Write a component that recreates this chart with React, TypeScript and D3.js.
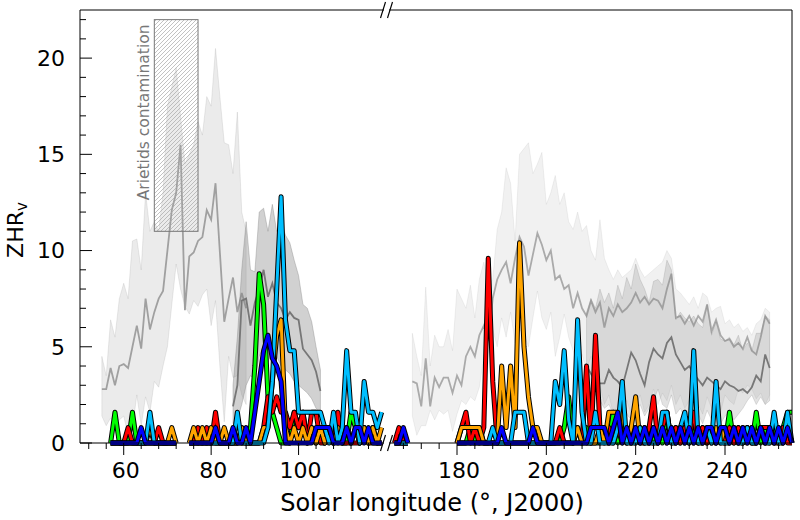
import * as d3 from "d3";

// solar longitude grids (degrees, J2000)
const LAMBDA_LEFT = d3.range(55, 120);
const LAMBDA_RIGHT = d3.range(166, 256);

// gray reference profiles: median and spread
const BAND_A_LAMBDA = d3.range(55, 89);
const BAND_A_HIGH = [4.5, 3.5, 6.4, 5.5, 7.5, 8.3, 7.5, 10.5, 10.6, 9.0, 13.0, 11.0, 11.5, 11.0, 13.0, 17.5, 18.5, 19.5, 17.0, 14.5, 15.0, 15.5, 16.7, 16.0, 18.0, 17.5, 20.5, 18.0, 15.6, 15.5, 14.0, 17.2, 12.0, 11.0];
const BAND_A_MID = [2.8, 2.8, 3.9, 3.0, 4.0, 4.1, 3.9, 5.0, 6.1, 4.9, 7.5, 5.9, 6.8, 7.5, 7.9, 10.0, 12.1, 13.0, 15.5, 6.9, 9.7, 9.9, 10.5, 10.7, 12.1, 11.6, 13.5, 9.9, 6.3, 7.5, 8.6, 6.8, 7.8, 7.0];
const BAND_A_LOW = [1.4, 0.9, 1.3, 1.0, 1.2, 1.4, 0.4, 0.8, 2.5, 0.9, 2.4, 1.6, 3.2, 2.9, 4.0, 5.0, 7.2, 9.3, 8.0, 7.1, 6.7, 7.4, 7.1, 7.7, 8.0, 6.1, 7.4, 4.0, 1.1, 4.5, 3.4, 3.5, 2.5, 2.0];

const BAND_B_LAMBDA = d3.range(85, 106);
const BAND_B_HIGH = [3.0, 5.5, 9.0, 11.5, 9.0, 8.9, 12.0, 12.2, 11.0, 12.4, 11.0, 11.5, 10.8, 10.4, 9.5, 8.7, 7.2, 7.0, 6.3, 5.0, 3.8];
const BAND_B_MID = [1.9, 3.0, 7.4, 7.5, 6.1, 7.3, 8.0, 9.0, 7.6, 8.3, 7.3, 7.0, 6.4, 6.8, 6.5, 6.4, 4.9, 4.6, 4.3, 3.7, 2.7];
const BAND_B_LOW = [1.0, 1.2, 2.0, 3.0, 3.5, 3.3, 4.5, 5.0, 4.2, 4.8, 4.5, 4.0, 3.8, 3.6, 3.2, 3.0, 2.8, 2.6, 2.3, 1.8, 1.6];

const BAND_C_LAMBDA = d3.range(170, 251);
const BAND_C_HIGH = [
  5.7, 4.5, 3.5, 8.1, 4.0, 5.6, 5.0, 5.0, 5.9, 4.8,
  8.0, 7.5, 7.0, 8.2, 6.5, 8.5, 9.4, 8.2, 8.5, 11.1,
  12.0, 14.3, 13.5, 10.5, 15.0, 15.3, 15.6, 14.0, 14.5, 15.1,
  12.4, 13.0, 13.9, 12.4, 13.0, 11.5, 11.1, 12.0, 11.0, 11.3,
  10.0, 9.5, 11.6, 9.6, 9.0, 8.5, 9.0, 8.6, 8.8, 9.0,
  9.6, 9.0, 8.6, 8.8, 9.0, 9.2, 9.4, 10.0, 9.6, 8.0,
  7.8, 7.5, 7.2, 7.6, 7.0, 7.8, 7.6, 6.8, 7.0, 7.1,
  6.2, 6.4, 6.0, 6.2, 5.8, 6.0, 5.6, 6.2, 6.4, 7.0,
  6.8,
];
const BAND_C_MID = [
  3.2, 3.1, 1.9, 4.4, 1.9, 3.4, 2.9, 3.4, 3.4, 2.6,
  3.5, 3.0, 4.5, 5.0, 4.5, 5.6, 6.1, 5.3, 7.5, 8.5,
  9.0, 9.4, 8.3, 9.6, 10.7, 10.2, 8.7, 9.8, 10.9, 10.3,
  9.5, 10.0, 8.5, 8.7, 8.0, 8.2, 7.0, 7.8, 7.0, 6.6,
  7.4, 6.8, 7.3, 6.0, 7.0, 6.6, 7.2, 6.8, 7.0, 7.3,
  7.8, 7.3, 7.6, 7.2, 7.5, 7.4, 7.0, 8.0, 8.8, 6.5,
  6.6, 6.2, 6.6, 6.1, 6.6, 6.3, 7.2, 5.8, 6.4, 5.6,
  5.3, 5.4, 5.0, 5.2, 4.9, 5.5, 4.8, 4.6, 5.5, 6.6,
  6.2,
];
const BAND_C_LOW = [
  1.4, 0.4, 0.9, 0.9, 1.7, 1.2, 1.7, 1.5, 1.7, 0.6,
  1.5, 2.2, 2.0, 2.4, 2.2, 2.9, 4.5, 5.5, 5.9, 5.0,
  6.5, 5.5, 6.8, 5.2, 5.9, 5.6, 5.0, 6.5, 7.9, 6.5,
  5.9, 6.8, 4.5, 5.5, 6.7, 5.5, 4.8, 4.0, 4.6, 3.8,
  4.5, 3.5, 3.0, 2.0, 2.5, 1.5, 2.0, 1.8, 2.2, 1.5,
  1.8, 2.5, 1.6, 2.0, 2.8, 2.0, 2.6, 2.2, 3.0, 2.0,
  2.5, 1.8, 2.2, 1.6, 2.0, 1.5, 2.4, 1.8, 2.0, 1.6,
  2.5, 2.2, 2.0, 2.8, 2.6, 3.0, 2.8, 2.3, 2.6, 2.0,
  2.5,
];

const BAND_D_LAMBDA = d3.range(209, 251);
const BAND_D_HIGH = [
  6.8, 7.5, 7.0, 8.0, 7.3, 7.8, 7.0, 8.2, 7.5, 8.6, 8.0,
  9.3, 8.5, 8.0, 7.3, 8.4, 8.5, 8.2, 9.5, 9.0, 6.4,
  6.8, 6.5, 6.3, 6.6, 6.2, 6.0, 7.2, 5.6, 6.3, 5.4,
  5.3, 5.5, 5.1, 5.6, 4.8, 5.2, 4.8, 5.7, 5.7, 6.6,
  6.4,
];
const BAND_D_MID = [
  4.0, 3.6, 3.2, 3.1, 3.1, 3.8, 3.4, 3.2, 2.9, 3.8, 4.7,
  4.3, 3.6, 3.0, 4.2, 4.9, 4.6, 4.4, 5.2, 5.5, 4.6,
  4.2, 3.8, 4.0, 3.6, 3.3, 3.0, 3.4, 3.2, 3.0, 2.8,
  3.2, 3.0, 2.9, 2.7, 2.8, 2.6, 2.9, 3.5, 3.2, 4.6,
  3.9,
];
const BAND_D_LOW = [
  3.0, 2.8, 2.5, 2.2, 1.8, 2.0, 1.5, 1.8, 1.3, 1.5, 1.2,
  1.6, 2.0, 1.4, 1.8, 2.2, 2.8, 2.0, 1.8, 2.5, 1.5,
  1.8, 1.3, 1.6, 1.2, 1.5, 1.0, 1.7, 1.2, 1.5, 1.0,
  1.4, 1.6, 1.2, 1.5, 1.8, 2.2, 2.5, 2.0, 2.4, 2.0,
  2.2,
];

// coloured profiles, left part (lambda 55..119), null = no data
const GREEN_LEFT = [
  null, null, 0, 1.6, 0, 0, 0, 1.6, 0, 0,
  0, 0, 0, 0, 0, 0, 0, 0, null, null,
  0, 0, 0, 0, 0, 0, 0, 0, 0, 0,
  0, 0, 0.8, 0, 0.8, 4.0, 8.8, 7.2, 2.4, 1.6,
  0.8, 0, 0, 0, 1.6, 0.8, 1.6, 0, 0.8, 0,
  0.8, 0, 0.8, 0, 0.8, 0, 0, 1.6, 0.8, 0,
  0.8, 0, 0.8, 0, 0,
];
const RED_LEFT = [
  null, null, 0, 0, 0, 0, 0.8, 0, 0, 0,
  0, 0, 0, 0.8, 0, 0, 0, 0, null, null,
  0, 0, 0.8, 0, 0.8, 0, 1.6, 0, 0, 0,
  0, 0, 0, 0, 0, 0, 0, 0.8, 2.4, 1.6,
  2.4, 1.6, 1.6, 0.8, 1.6, 0.8, 1.6, 0, 1.6, 1.6,
  0, 0, 0.8, 0, 1.6, 0, 0, 0, 0, 0,
  0.8, 0, 0, 0, 0,
];
const ORANGE_LEFT = [
  null, null, 0, 0, 0, 0, 0, 0, 0, 0,
  0, 0.8, 0, 0, 0, 0, 0.8, 0, null, null,
  0, 0.8, 0, 0.8, 0, 0.8, 0, 0, 0.8, 0,
  0, 0, 0.8, 0, 0, 0, 0, 0.8, 0.8, 3.2,
  5.6, 6.4, 0.8, 0, 0.8, 0, 0.8, 0, 0.8, 0,
  0.8, 0, 0.8, 0, 0.8, 0, 0.8, 0, 0.8, 0,
  0.8, 0, 0.8, 0, 0.8,
];
const CYAN_LEFT = [
  null, null, 0, 0, 0, 0, 0, 0, 0, 0,
  0, 1.6, 0, 0, 0, 0, 0, 0, null, null,
  0, 0, 0, 0, 0, 0, 0, 0, 0, 0,
  0, 1.6, 0, 0, 0, 0, 0, 0, 0.8, 3.2,
  8.0, 12.8, 6.4, 4.8, 4.8, 1.6, 1.6, 1.6, 1.6, 1.6,
  1.6, 0.8, 0, 1.6, 0, 0.8, 4.8, 1.6, 1.6, 0,
  3.2, 1.6, 1.6, 0.8, 1.6,
];
const BLUE_LEFT = [
  null, null, 0, 0, 0, 0, 0, 0, 0, 0.8,
  0, 0, 0, 0, 0, 0, 0, 0, null, null,
  0, 0, 0, 0, 0, 0, 0.8, 0, 0, 0,
  0.8, 0, 0, 0.8, 0, 1.6, 3.2, 4.8, 5.6, 4.4,
  4.0, 3.2, 0, 0, 0, 0, 0, 0, 0, 0.8,
  0.8, 0.8, 0.8, 0, 0, 0, 0.8, 0, 0.8, 0.8,
  0, 0.8, 0, 0, 0,
];

// coloured profiles, right part (lambda 166..255)
const NO_DATA = [null, null, null, null, null, null, null, null, null, null];
const GREEN_RIGHT = [
  0, 0, 0, 0, ...NO_DATA,
  0, 0, 0, 0.8, 0, 0.8, 0, 0, 0, 0,
  0, 0, 0, 0, 0, 0, 0, 0, 0, 0,
  0, 0, 0, 0, 0.8, 2.4, 0, 0.8, 0, 0.8,
  0, 0, 0, 0.8, 0, 1.6, 0, 0.8, 0, 0.8,
  0, 0.8, 0, 0.8, 0, 0.8, 0, 1.6, 0, 0.8,
  0, 0.8, 0, 0.8, 0, 0.8, 0, 0.8, 0, 0.8,
  0, 1.6, 0, 0.8, 0, 0.8, 0, 1.6, 0, 0.8,
  0, 0.8, 0, 0.8, 1.6, 1.6,
];
const RED_RIGHT = [
  0, 0.8, 0, 0, ...NO_DATA,
  0, 0.8, 1.6, 0, 0.8, 0, 0.8, 9.6, 3.2, 0,
  0, 0, 0, 0, 0, 0, 0, 0, 0, 0,
  0, 0, 0, 0.8, 0, 0, 0, 0, 0, 4.0,
  0, 5.6, 0.8, 0.8, 0.8, 0, 0.8, 0, 0.8, 0,
  0.8, 0, 0, 0.8, 2.4, 0, 0.8, 1.6, 0, 0.8,
  0, 0.8, 0, 1.6, 0, 0.8, 0, 0.8, 0, 0.8,
  0, 0.8, 0, 0.8, 0, 0.8, 0, 0, 0.8, 0.8,
  0.8, 0, 0, 0.8, 0, 0,
];
const ORANGE_RIGHT = [
  0, 0, 0, 0, ...NO_DATA,
  0, 0.8, 0.8, 0.8, 0.8, 0.8, 0, 0, 0, 0,
  4.0, 0.8, 4.0, 0.8, 10.4, 5.0, 2.4, 0.8, 0.8, 0,
  0, 0, 0, 0, 0, 0, 0, 0.8, 0, 0,
  0, 0, 0.8, 0, 1.6, 1.6, 1.6, 1.6, 0, 0.8,
  2.4, 0, 0.8, 0, 0.8, 0, 0.8, 0, 0.8, 0,
  0.8, 0, 0.8, 0, 0.8, 0, 0.8, 0, 0.8, 0,
  0.8, 0, 0.8, 0, 0.8, 0, 0.8, 0, 0.8, 0,
  0.8, 0, 0.8, 0, 0.8, 0,
];
const CYAN_RIGHT = [
  0, 0, 0, 0, ...NO_DATA,
  0, 0, 0, 0, 0, 0, 0, 0, 0.8, 0,
  0, 0, 0, 1.6, 1.6, 1.6, 0, 0, 0, 0,
  0, 0, 3.2, 2.0, 4.8, 1.2, 0, 6.4, 1.6, 0,
  0, 1.6, 0, 0, 0, 0, 0.8, 3.2, 0, 0,
  0, 0.8, 0, 0, 0, 0, 1.6, 1.6, 0, 0,
  0.8, 1.6, 0, 4.8, 0, 0, 0.8, 0, 3.2, 0,
  0, 0, 0.8, 0, 0, 0.8, 0, 0, 0.8, 0,
  0, 1.6, 0, 0, 1.6, 0,
];
const BLUE_RIGHT = [
  0, 0, 0.8, 0, ...NO_DATA,
  0, 0, 0, 0, 0, 0, 0, 0, 0, 0,
  0.8, 0, 0, 0, 0, 0, 0, 0.8, 0, 0,
  0, 0, 0, 0, 0, 0, 0, 0, 0, 0,
  0.8, 0.8, 0.8, 0.8, 0, 0.8, 1.6, 0, 0.8, 0,
  0.8, 0, 0.8, 0, 0.8, 0, 0.8, 0, 0.8, 0,
  0.8, 0, 0.8, 0, 0.8, 0, 0.8, 0.8, 0, 0.8,
  0.8, 0, 0.8, 0, 0.8, 0, 0.8, 0, 0.8, 0,
  0.8, 0, 0.8, 0, 0.8, 0,
];

const SERIES = [
  { color: "#00ff00", left: GREEN_LEFT, right: GREEN_RIGHT },
  { color: "#ff0000", left: RED_LEFT, right: RED_RIGHT },
  { color: "#ffa500", left: ORANGE_LEFT, right: ORANGE_RIGHT },
  { color: "#00bfff", left: CYAN_LEFT, right: CYAN_RIGHT },
  { color: "#0000ff", left: BLUE_LEFT, right: BLUE_RIGHT },
];

// hatched region: lambda 67..77, ZHR 11..22
const CONTAMINATION = { x0: 67, x1: 77, y0: 11, y1: 22 };

const Y_TICKS = [0, 5, 10, 15, 20];
const LEFT_TICKS = [60, 80, 100];
const RIGHT_TICKS = [180, 200, 220, 240];

const FONT = "DejaVu Sans, sans-serif";
const TOP = 10;
const BOTTOM = 443;
const BREAK_L = 383;
const BREAK_R = 390;

const y = d3.scaleLinear().domain([0, 22.5]).range([BOTTOM, TOP]);
const xLeft = d3.scaleLinear().domain([50, 120]).range([80, 386]);
const xRight = d3.scaleLinear().domain([165, 255]).range([390, 792]);

type Scale = d3.ScaleLinear<number, number>;

const Band = ({ x, lam, low, high, mid, opacity, lineColor }: {
  x: Scale; lam: number[]; low: number[]; high: number[]; mid: number[];
  opacity: number; lineColor: string;
}) => {
  const area = d3
    .area<number>()
    .x((_, i) => x(lam[i]))
    .y0((_, i) => y(low[i]))
    .y1((d) => y(d));
  const line = d3
    .line<number>()
    .x((_, i) => x(lam[i]))
    .y((d) => y(d));
  return (
    <g>
      <path d={area(high) ?? ""} fill="#808080" fillOpacity={opacity}
        stroke="#808080" strokeOpacity={opacity} strokeWidth={1} />
      <path d={line(mid) ?? ""} fill="none" stroke={lineColor} strokeWidth={1.8} />
    </g>
  );
};

const Profile = ({ x, lam, values, color }: {
  x: Scale; lam: number[]; values: (number | null)[]; color: string;
}) => {
  const line = d3
    .line<number | null>()
    .defined((d) => d !== null)
    .x((_, i) => x(lam[i]))
    .y((d) => y(d as number));
  const d = line(values) ?? "";
  return (
    <g>
      <path d={d} fill="none" stroke="black" strokeWidth={5} strokeLinejoin="round" />
      <path d={d} fill="none" stroke={color} strokeWidth={3} strokeLinejoin="round" />
    </g>
  );
};

const XTicks = ({ x, major, minor }: { x: Scale; major: number[]; minor: number[] }) => (
  <g>
    {minor.filter((t) => !major.includes(t)).map((t) => (
      <line key={"m" + t} x1={x(t)} x2={x(t)} y1={BOTTOM} y2={BOTTOM + 6} stroke="black" />
    ))}
    {major.map((t) => (
      <g key={t}>
        <line x1={x(t)} x2={x(t)} y1={BOTTOM} y2={BOTTOM + 12} stroke="black" />
        <text x={x(t) + 2} y={478} textAnchor="middle" fontSize={22}>{t}</text>
      </g>
    ))}
  </g>
);

const BreakMark = ({ cx, cy }: { cx: number; cy: number }) => (
  <line x1={cx - 2.5} y1={cy + 8} x2={cx + 2.5} y2={cy - 8} stroke="black" strokeWidth={1.2} />
);

export default function App() {
  const box = CONTAMINATION;
  return (
    <svg width={800} height={520} fontFamily={FONT}
      style={{ position: "absolute", left: 0, top: 0, background: "white" }}>
      <defs>
        <pattern id="hatch" patternUnits="userSpaceOnUse" width={4} height={4}>
          <path d="M0,4 L4,0 M-1,1 L1,-1 M3,5 L5,3" stroke="#a8a8a8" strokeWidth={0.7} />
        </pattern>
      </defs>

      {/* gray reference profiles */}
      <Band x={xLeft} lam={BAND_A_LAMBDA} low={BAND_A_LOW} high={BAND_A_HIGH}
        mid={BAND_A_MID} opacity={0.16} lineColor="#a0a0a0" />
      <Band x={xLeft} lam={BAND_B_LAMBDA} low={BAND_B_LOW} high={BAND_B_HIGH}
        mid={BAND_B_MID} opacity={0.36} lineColor="#777" />
      <Band x={xRight} lam={BAND_C_LAMBDA} low={BAND_C_LOW} high={BAND_C_HIGH}
        mid={BAND_C_MID} opacity={0.11} lineColor="#aaa" />
      <Band x={xRight} lam={BAND_D_LAMBDA} low={BAND_D_LOW} high={BAND_D_HIGH}
        mid={BAND_D_MID} opacity={0.22} lineColor="#777" />

      {/* Arietids contamination */}
      <rect x={xLeft(box.x0)} y={y(box.y1)} width={xLeft(box.x1) - xLeft(box.x0)}
        height={y(box.y0) - y(box.y1)} fill="url(#hatch)" stroke="#777" strokeWidth={1} />
      <text transform={`translate(${xLeft(box.x0) - 5},${y(box.y0) - 31}) rotate(-90)`}
        fontSize={15.5} fill="#777">Arietids contamination</text>

      {/* coloured profiles */}
      {SERIES.map((s) => (
        <g key={s.color}>
          <Profile x={xLeft} lam={LAMBDA_LEFT} values={s.left} color={s.color} />
          <Profile x={xRight} lam={LAMBDA_RIGHT} values={s.right} color={s.color} />
        </g>
      ))}

      {/* frame */}
      <g stroke="black" strokeWidth={1} fill="none">
        <line x1={80} x2={80} y1={TOP} y2={BOTTOM} />
        <line x1={80} x2={BREAK_L + 1} y1={TOP} y2={TOP} />
        <line x1={80} x2={BREAK_L + 1} y1={BOTTOM} y2={BOTTOM} />
        <line x1={BREAK_R - 1} x2={792} y1={TOP} y2={TOP} />
        <line x1={BREAK_R - 1} x2={792} y1={BOTTOM} y2={BOTTOM} />
        <line x1={792} x2={792} y1={TOP} y2={BOTTOM} />
      </g>
      <BreakMark cx={BREAK_L} cy={TOP} />
      <BreakMark cx={BREAK_R} cy={TOP} />
      <BreakMark cx={BREAK_L} cy={BOTTOM} />
      <BreakMark cx={BREAK_R} cy={BOTTOM} />

      {/* y axis */}
      {d3.range(0, 23).filter((t) => !Y_TICKS.includes(t)).map((t) => (
        <line key={"ym" + t} x1={80} x2={86} y1={y(t)} y2={y(t)} stroke="black" />
      ))}
      {Y_TICKS.map((t) => (
        <g key={"y" + t}>
          <line x1={80} x2={92} y1={y(t)} y2={y(t)} stroke="black" />
          <text x={65} y={y(t)} dy="0.36em" textAnchor="end" fontSize={22}>{t}</text>
        </g>
      ))}

      {/* x axes */}
      <XTicks x={xLeft} major={LEFT_TICKS} minor={d3.range(52, 120, 4)} />
      <XTicks x={xRight} major={RIGHT_TICKS} minor={d3.range(168, 255, 4)} />

      <text x={432} y={511} textAnchor="middle" fontSize={24}>Solar longitude (°, J2000)</text>
      <text transform="translate(23,230) rotate(-90)" textAnchor="middle" fontSize={22}>
        ZHR<tspan fontSize={15} dy={4}>v</tspan>
      </text>
    </svg>
  );
}
